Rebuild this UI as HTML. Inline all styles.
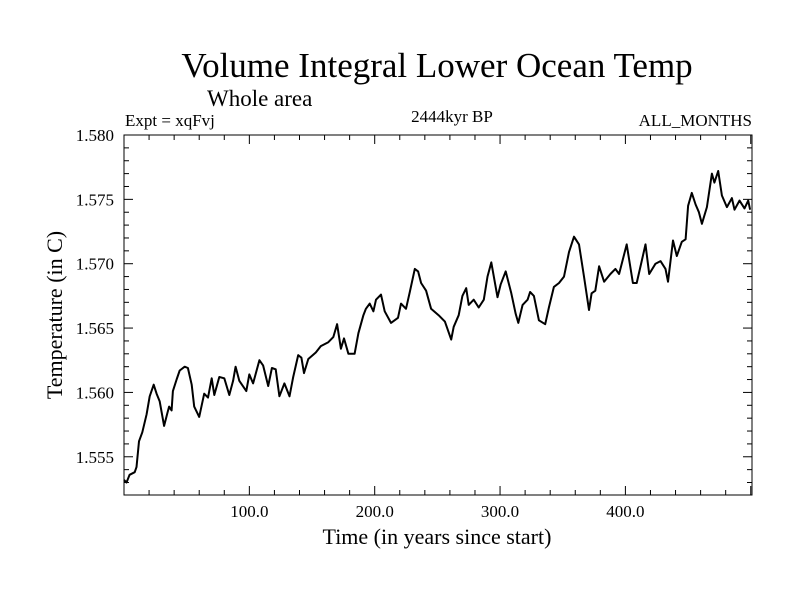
<!DOCTYPE html>
<html><head><meta charset="utf-8"><style>
body{margin:0;background:#fff}
svg{display:block;font-family:"Liberation Serif",serif}
</style></head><body>
<svg id="chart" width="800" height="600" viewBox="0 0 800 600" xmlns="http://www.w3.org/2000/svg">
<rect width="800" height="600" fill="#fff"/>
<text x="437" y="77" font-size="35" text-anchor="middle">Volume Integral Lower Ocean Temp</text>
<text x="207" y="106" font-size="23">Whole area</text>
<text x="125" y="126" font-size="17">Expt = xqFvj</text>
<text x="452" y="122" font-size="17" text-anchor="middle">2444kyr BP</text>
<text x="752" y="126" font-size="17" text-anchor="end">ALL_MONTHS</text>
<text x="437" y="544" font-size="22" text-anchor="middle">Time (in years since start)</text>
<text x="0" y="0" font-size="22" text-anchor="middle" transform="translate(62,315) rotate(-90)">Temperature (in C)</text>
<g id="axes"></g>
<g id="plot"></g>
</svg>
<script>
const years=[0,2,4.5,8.5,10,12,14.6,18,20.5,23.7,26,28.5,32,34.6,36,38,39,42,44.4,48.4,51,54,56,60,64,67,70,72,76,80,84,87,89,92,97.6,100,103,108,111,115,118,121,124,128,132,135,139,141.5,143.6,147,153,157,163,167,170,173,175.5,179,184,187,191,193,196,199,201,205,208,213,218.6,221,225,228,232,234.6,237,241,245,251,256,261,263,267,270,273,275,279,283,287,290,293,298,300.5,304.5,309,312.5,314.6,318,322,324,327,331,336,339,343,347,351,355,359,363,367,371,373,376,379,383,388,392,395,401,406,409,413,416,419,424,428,432,434,438,441,445,448,450,453,456,458.6,461,465,469,471,474,477,481,485,487,491,495,498,499.5];
const temps=[1.5532,1.5530,1.5536,1.5538,1.5542,1.5562,1.5569,1.5583,1.5597,1.5606,1.5599,1.5593,1.5574,1.5584,1.5589,1.5586,1.5601,1.5610,1.5617,1.5620,1.5619,1.5606,1.5589,1.5581,1.5599,1.5596,1.5611,1.5598,1.5612,1.5611,1.5598,1.5609,1.5620,1.5609,1.5601,1.5614,1.5607,1.5625,1.5621,1.5605,1.5619,1.5618,1.5597,1.5607,1.5597,1.5612,1.5629,1.5627,1.5615,1.5626,1.5631,1.5636,1.5639,1.5643,1.5653,1.5634,1.5642,1.5630,1.5630,1.5646,1.5660,1.5665,1.5669,1.5663,1.5672,1.5676,1.5663,1.5654,1.5658,1.5669,1.5665,1.5678,1.5696,1.5694,1.5685,1.5679,1.5665,1.5660,1.5655,1.5641,1.5651,1.5660,1.5675,1.5681,1.5668,1.5672,1.5666,1.5672,1.5690,1.5701,1.5674,1.5684,1.5694,1.5677,1.5661,1.5654,1.5668,1.5672,1.5678,1.5675,1.5656,1.5653,1.5666,1.5682,1.5685,1.5690,1.5709,1.5721,1.5715,1.5690,1.5664,1.5677,1.5679,1.5698,1.5686,1.5692,1.5696,1.5692,1.5715,1.5685,1.5685,1.5702,1.5715,1.5692,1.5700,1.5702,1.5696,1.5686,1.5718,1.5706,1.5717,1.5719,1.5745,1.5755,1.5746,1.5740,1.5731,1.5744,1.5770,1.5763,1.5772,1.5753,1.5744,1.5751,1.5742,1.5749,1.5743,1.5749,1.5742];
const xTicks=[100,200,300,400];
const xTickLabels=["100.0","200.0","300.0","400.0"];
const yTicks=[1.555,1.560,1.565,1.570,1.575,1.580];
const yTickLabels=["1.555","1.560","1.565","1.570","1.575","1.580"];

const L=124,R=752,T=135,B=495,X0=0,X1=501,Y0=1.55203,Y1=1.580;
const sx=v=>L+(v-X0)/(X1-X0)*(R-L);
const sy=v=>B-(v-Y0)/(Y1-Y0)*(B-T);
const NS="http://www.w3.org/2000/svg";
const axes=document.getElementById('axes'),plot=document.getElementById('plot');
function mk(tag,attrs,parent){const e=document.createElementNS(NS,tag);for(const k in attrs)e.setAttribute(k,attrs[k]);parent.appendChild(e);return e;}
const frame=mk('rect',{x:L,y:T,width:R-L,height:B-T,fill:'none',stroke:'#000','stroke-width':1},axes);


// minor x ticks every 20
for(let v=20;v<X1;v+=20){const major=v%100===0;const len=major?9:5;const x=sx(v);
 mk('line',{x1:x,y1:B,x2:x,y2:B-len,stroke:'#000'},axes);mk('line',{x1:x,y1:T,x2:x,y2:T+len,stroke:'#000'},axes);}
for(let v=1.553;v<1.5801;v+=0.001){const y=sy(v);const major=Math.abs(Math.round(v*1000)%5)===0;const len=major?9:5;
 mk('line',{x1:L,y1:y,x2:L+len,y2:y,stroke:'#000'},axes);mk('line',{x1:R,y1:y,x2:R-len,y2:y,stroke:'#000'},axes);}
xTicks.forEach((v,i)=>{const t=mk('text',{x:sx(v),y:B+22,'font-size':17,'text-anchor':'middle'},axes);t.textContent=xTickLabels[i];
 
 });
yTicks.forEach((v,i)=>{const t=mk('text',{x:L-10,y:sy(v)+6,'font-size':17,'text-anchor':'end'},axes);t.textContent=yTickLabels[i];
 
 });
const d=years.map((v,i)=>(i?'L':'M')+sx(v).toFixed(1)+','+sy(temps[i]).toFixed(1)).join('');
const line=mk('path',{d:d,fill:'none',stroke:'#000','stroke-width':2,'stroke-linejoin':'round'},plot);


</script>
</body></html>
